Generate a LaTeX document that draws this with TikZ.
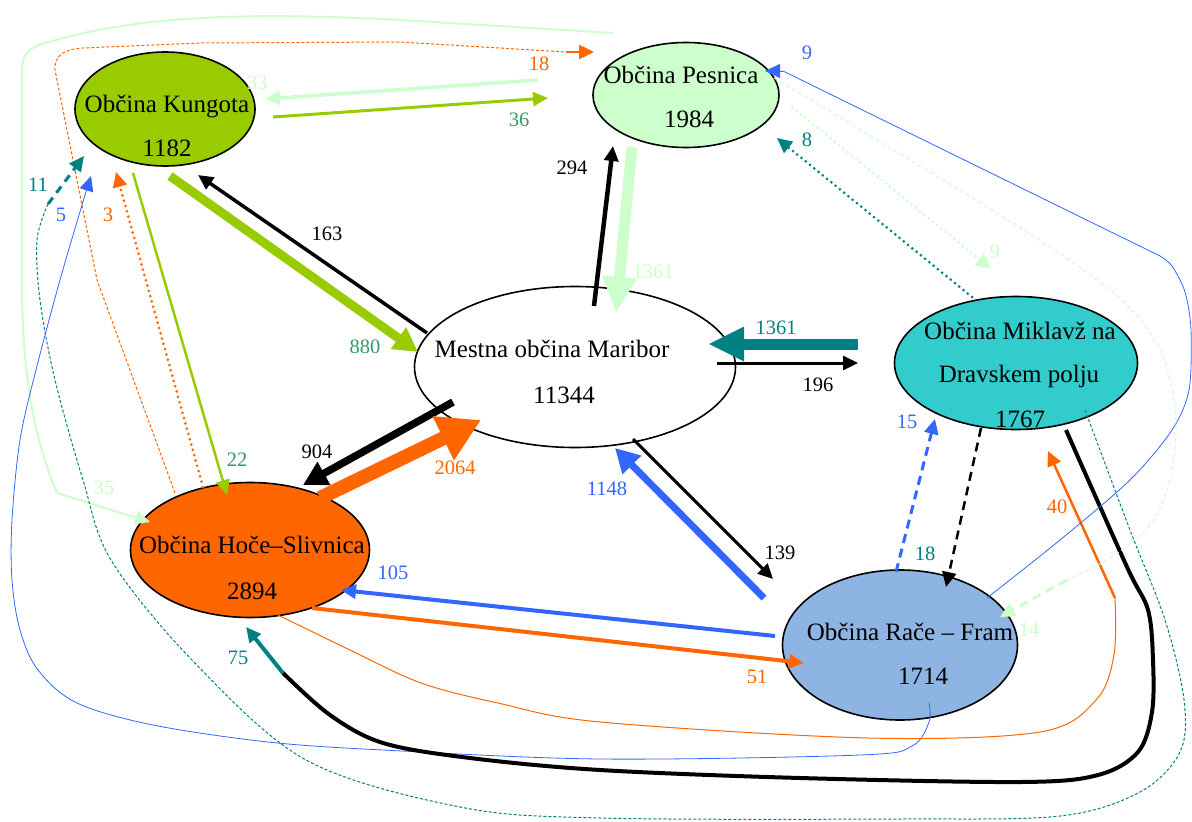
\documentclass[tikz,border=0pt]{standalone}
\usepackage{fontspec}
\setmainfont{Liberation Serif}
\usetikzlibrary{arrows.meta,shapes.geometric}
\definecolor{ygreen}{HTML}{99CC00}
\definecolor{lgreen}{HTML}{CCFFCC}
\definecolor{tealc}{HTML}{008080}
\definecolor{turq}{HTML}{33CCCC}
\definecolor{orng}{HTML}{FF6600}
\definecolor{blu}{HTML}{3366FF}
\definecolor{lblue}{HTML}{8EB4E3}
\definecolor{sgreen}{HTML}{339966}
\begin{document}
\begin{tikzpicture}[x=1pt,y=-1pt,
  town/.style={ellipse, draw=black, line width=1.6pt, inner sep=0pt},
  ttext/.style={anchor=base, inner sep=0pt, font=\fontsize{25}{30}\selectfont},
  lab/.style={inner sep=0pt, font=\fontsize{20.5}{24}\selectfont},
  tipA/.style={-{Triangle[length=15pt,width=14pt]}},
  tipB/.style={-{Triangle[length=24pt,width=25pt]}},
  tipC/.style={-{Triangle[length=36pt,width=32pt]}},
  tipD/.style={-{Triangle[length=42pt,width=46pt]}},
  dots/.style={dash pattern=on 0pt off 5.5pt, line cap=round},
  dashes/.style={dash pattern=on 9pt off 6pt},
  fine/.style={dash pattern=on 3pt off 2pt}]
\useasboundingbox (0,0) rectangle (1192,822);

% municipalities
\node[town, fill=ygreen, minimum width=180pt, minimum height=114pt] (K) at (165,109) {};
\node[town, fill=lgreen, minimum width=186pt, minimum height=105pt] (P) at (686,95) {};
\node[town, fill=white, minimum width=321pt, minimum height=161pt] (M) at (575,367) {};
\node[town, fill=turq, minimum width=243pt, minimum height=133pt] (Mk) at (1016,363) {};
\node[town, fill=orng, minimum width=239pt, minimum height=135pt] (H) at (250,550) {};
\node[town, fill=lblue, minimum width=235pt, minimum height=150pt] (R) at (900,645) {};

% ---- long thin curved flows ----
% Pesnica -> Hoce (35)
\coordinate (c35s) at (613,33); \coordinate (c35k) at (57,493); \coordinate (c35e) at (150,522);
\draw[lgreen, line width=2pt] (c35s) -- (400,20) .. controls (250,12) and (150,16) .. (67,37)
  .. controls (40,45) and (22,45) .. (22,70) -- (22,280) .. controls (22,380) and (35,440) .. (c35k);
\draw[lgreen, line width=2pt, tipA] (c35k) -- (c35e);

% Hoce -> Pesnica (18)
\coordinate (c18s) at (175,493); \coordinate (c18k) at (566,52); \coordinate (c18e) at (594,52);
\draw[orng, line width=1pt, fine] (c18s) -- (97,280) -- (55,70) .. controls (54,55) and (65,49) .. (83,48)
  -- (200,43) -- (400,42) -- (c18k);
\draw[orng, line width=2.5pt, tipA] (c18k) -- (c18e);

% Race -> Kungota (5)
\coordinate (c5s) at (929,703); \coordinate (c5k) at (85,195); \coordinate (c5e) at (91,176);
\draw[blu, line width=0.8pt] plot[smooth, tension=0.55] coordinates {(c5s) (929,722) (912,746) (860,755) (600,759) (383,750) (268,742) (153,725) (77,703) (38,670) (20,630) (12,580) (12,520) (20,440) (36,370) (60,280) (c5k)};
\draw[blu, line width=0.8pt, tipA] (c5k) -- (c5e);

% Miklavz -> Kungota (11)
\coordinate (c11s) at (1085,410); \coordinate (c11k) at (48,204); \coordinate (c11e) at (84,156);
\draw[tealc, line width=1pt, fine] plot[smooth, tension=0.55] coordinates {(c11s) (1130,530) (1165,620) (1184,700) (1180,752) (1140,792) (1060,816) (900,819) (600,818) (460,807) (306,760) (192,660) (111,560) (83,480) (55,380) (40,300) (37,240) (c11k)};
\draw[tealc, line width=3pt, dash pattern=on 8pt off 6pt, tipA] (c11k) -- (c11e);

% Miklavz -> Hoce (75)
\coordinate (c75s) at (1066,430); \coordinate (c75k) at (283,673); \coordinate (c75e) at (246,627);
\draw[black, line width=4pt] plot[smooth, tension=0.55] coordinates {(c75s) (1127,567) (1148,610) (1153,660) (1152,712) (1138,752) (1098,775) (1021,782) (800,778) (600,770) (470,758) (383,743) (330,715) (c75k)};
\draw[tealc, line width=4pt, tipA] (c75k) -- (c75e);

% Hoce -> Miklavz (40)
\coordinate (c40s) at (278,615); \coordinate (c40k) at (1115,598); \coordinate (c40e) at (1048,451);
\draw[orng, line width=1pt] plot[smooth, tension=0.55] coordinates {(c40s) (350,650) (421,683) (498,703) (600,722) (868,738) (1040,732) (1096,700) (1114,655) (c40k)};
\draw[orng, line width=2.5pt, tipA] (c40k) -- (c40e);

% Race -> Pesnica (9)
\coordinate (c9s) at (987,598); \coordinate (c9k) at (783,71); \coordinate (c9e) at (765,71);
\draw[blu, line width=0.8pt] plot[smooth, tension=0.5] coordinates {(c9s) (1060,540) (1130,480) (1172,430) (1189,390) (1191,330) (1185,292) (1172,266) (1160,256)} -- (c9k);
\draw[blu, line width=0.8pt, tipA] (c9k) -- (c9e);

% Pesnica -> Race (14)
\coordinate (c14s) at (774,78); \coordinate (c14k) at (1067,580); \coordinate (c14e) at (1000,617);
\draw[lgreen, line width=1pt, dash pattern=on 4pt off 3pt] plot[smooth, tension=0.55] coordinates {(c14s) (1000,215) (1100,282) (1142,322) (1165,362) (1176,420) (1170,480) (1150,525) (1110,558) (c14k)};
\draw[lgreen, line width=3pt, dashes, tipA] (c14k) -- (c14e);

% ---- straight flows ----
\coordinate (a1) at (273,117); \coordinate (a2) at (548,98);
\draw[ygreen, line width=3pt, tipA] (a1) -- (a2);
\coordinate (b1) at (538,80); \coordinate (b2) at (265,99);
\draw[lgreen, line width=3.5pt, tipA] (b1) -- (b2);
\coordinate (d1) at (170,176); \coordinate (d2) at (418,352);
\draw[ygreen, line width=9pt, tipB] (d1) -- (d2);
\coordinate (f1) at (427,333); \coordinate (f2) at (198,175);
\draw[black, line width=3.5pt, tipA] (f1) -- (f2);
\coordinate (g1) at (133,173); \coordinate (g2) at (227,495);
\draw[ygreen, line width=2.5pt, tipA] (g1) -- (g2);
\coordinate (h1) at (203,487); \coordinate (h2) at (116,172);
\draw[orng, line width=3pt, dots, tipA] (h1) -- (h2);
\coordinate (i1) at (632,147); \coordinate (i2) at (616,313);
\draw[lgreen, line width=11pt, tipC] (i1) -- (i2);
\coordinate (j1) at (594,306); \coordinate (j2) at (613,146);
\draw[black, line width=4.5pt, tipA] (j1) -- (j2);
\coordinate (m1) at (858,344); \coordinate (m2) at (708,344);
\draw[tealc, line width=11pt, tipC] (m1) -- (m2);
\coordinate (n1) at (717,363); \coordinate (n2) at (858,363);
\draw[black, line width=3pt, tipA] (n1) -- (n2);
\coordinate (o1) at (453,402); \coordinate (o2) at (303,485);
\draw[black, line width=7.5pt, tipB] (o1) -- (o2);
\coordinate (q1) at (320,498); \coordinate (q2) at (481,420);
\draw[orng, line width=14pt, tipD] (q1) -- (q2);
\coordinate (r1) at (764,598); \coordinate (r2) at (615,448);
\draw[blu, line width=7pt, tipB] (r1) -- (r2);
\coordinate (s1) at (633,439); \coordinate (s2) at (773,579);
\draw[black, line width=3pt, tipA] (s1) -- (s2);
\coordinate (t1) at (775,636); \coordinate (t2) at (341,590);
\draw[blu, line width=4pt, tipA] (t1) -- (t2);
\coordinate (u1) at (312,608); \coordinate (u2) at (804,663);
\draw[orng, line width=4pt, tipA] (u1) -- (u2);
\coordinate (v1) at (896,572); \coordinate (v2) at (935,419);
\draw[blu, line width=3pt, dashes, tipA] (v1) -- (v2);
\coordinate (w1) at (981,428); \coordinate (w2) at (946,587);
\draw[black, line width=2.5pt, dashes, tipA] (w1) -- (w2);
\coordinate (x1) at (972,297); \coordinate (x2) at (777,138);
\draw[tealc, line width=3pt, dots, tipA] (x1) -- (x2);
\coordinate (y1) at (792,107); \coordinate (y2) at (991,269);
\draw[lgreen, line width=3pt, dots, tipA] (y1) -- (y2);

% ---- texts of municipalities ----
\node[ttext] (Kt1) at (167,112) {Občina Kungota};
\node[ttext] (Kt2) at (167,156) {1182};
\node[ttext] (Pt1) at (681,83) {Občina Pesnica};
\node[ttext] (Pt2) at (689,127) {1984};
\node[ttext] (Mt1) at (552,357) {Mestna občina Maribor};
\node[ttext] (Mt2) at (564,403) {11344};
\node[ttext] (Mkt1) at (1020,339) {Občina Miklavž na};
\node[ttext] (Mkt2) at (1019,382) {Dravskem polju};
\node[ttext] (Mkt3) at (1020,427) {1767};
\node[ttext] (Ht1) at (252,553) {Občina Hoče–Slivnica};
\node[ttext] (Ht2) at (252,599) {2894};
\node[ttext] (Rt1) at (910,640) {Občina Rače – Fram};
\node[ttext] (Rt2) at (923,684) {1714};

% ---- flow labels ----
\node[lab, text=lgreen] (l33) at (257,83) {33};
\node[lab, text=sgreen] (l36) at (519,120) {36};
\node[lab, text=orng] (l18a) at (539,64) {18};
\node[lab] (l163) at (327,234) {163};
\node[lab, text=sgreen] (l880) at (365,347) {880};
\node[lab, text=sgreen] (l22) at (237,460) {22};
\node[lab, text=orng] (l3) at (108,215) {3};
\node[lab, text=blu] (l5) at (61,215) {5};
\node[lab, text=tealc] (l11) at (38,185) {11};
\node[lab, text=lgreen] (l35) at (104,488) {35};
\node[lab] (l904) at (317,452) {904};
\node[lab, text=orng] (l2064) at (455,468) {2064};
\node[lab, text=blu] (l1148) at (607,489) {1148};
\node[lab] (l139) at (780,553) {139};
\node[lab] (l294) at (572,168) {294};
\node[lab, text=lgreen] (l1361a) at (653,272) {1361};
\node[lab, text=tealc] (l1361b) at (776,328) {1361};
\node[lab] (l196) at (818,385) {196};
\node[lab, text=blu] (l9a) at (807,53) {9};
\node[lab, text=tealc] (l8) at (807,140) {8};
\node[lab, text=lgreen] (l9b) at (995,252) {9};
\node[lab, text=blu] (l15) at (907,422) {15};
\node[lab, text=tealc] (l18b) at (925,554) {18};
\node[lab, text=orng] (l40) at (1057,507) {40};
\node[lab, text=lgreen] (l14) at (1029,630) {14};
\node[lab, text=blu] (l105) at (393,573) {105};
\node[lab, text=orng] (l51) at (757,677) {51};
\node[lab, text=tealc] (l75) at (238,658) {75};
\end{tikzpicture}
\end{document}
